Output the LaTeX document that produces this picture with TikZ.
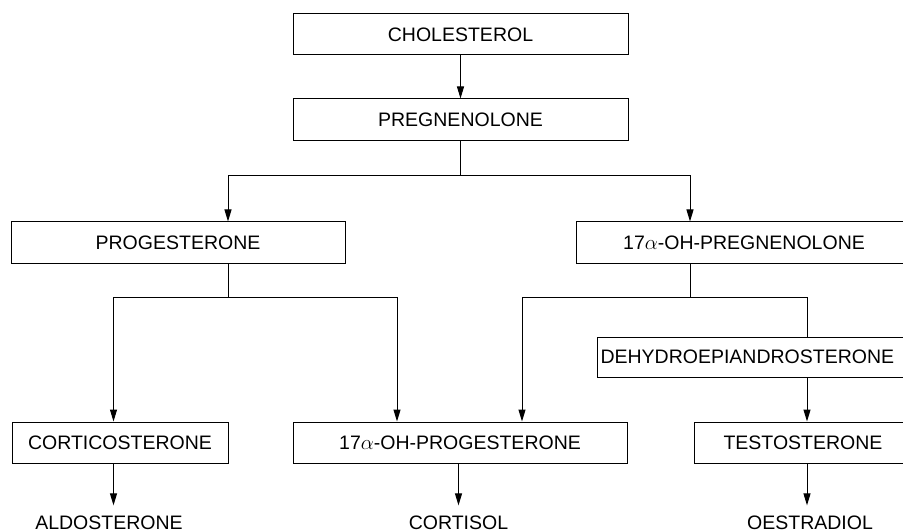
\documentclass[tikz,border=0pt]{standalone}
\usepackage{fontspec}
\setmainfont{Liberation Sans}
\usetikzlibrary{arrows.meta}
\begin{document}
\begin{tikzpicture}[x=1pt,y=-1pt,
  lbl/.style={font=\fontsize{19.5}{23}\selectfont},
  box/.style={lbl, draw, line width=1pt, minimum height=41pt, inner sep=0pt},
  outtext/.style={lbl, inner sep=0pt, outer ysep=10pt},
  conn/.style={line width=1pt},
  arr/.style={conn, -{Triangle[length=12pt,width=7pt]}}]
\useasboundingbox (0,0) rectangle (903,532);
% boxes
\node[box, minimum width=335pt] (chol) at (460.5,34.5) {CHOLESTEROL};
\node[box, minimum width=335pt, minimum height=42pt] (preg) at (460.5,120) {PREGNENOLONE};
\node[box, minimum width=334pt] (prog) at (178,242.5) {PROGESTERONE};
\node[box, minimum width=336pt] (ohpreg) at (744,242.5) {17$\alpha$-OH-PREGNENOLONE};
\node[box, anchor=west, text width=314pt, inner xsep=3pt, align=left, minimum height=40pt] (dhea) at (597,357) {DEHYDROEPIANDROSTERONE};
\node[box, minimum width=216pt] (cort) at (120,442.5) {CORTICOSTERONE};
\node[box, minimum width=334pt] (ohprog) at (460,442.5) {17$\alpha$-OH-PROGESTERONE};
\node[box, minimum width=218pt] (testo) at (803,442.5) {TESTOSTERONE};
% end products
\node[outtext, anchor=base] (aldo) at (109,529) {ALDOSTERONE};
\node[outtext, anchor=base] (cortisol) at (458.5,529) {CORTISOL};
\node[outtext, anchor=base] (oest) at (810,529) {OESTRADIOL};
% junctions
\coordinate (j1) at (460.5,176);
\coordinate (j1l) at (228,176);
\coordinate (j1r) at (690,176);
\coordinate (j2) at (228,297.5);
\coordinate (j2l) at (113.5,297.5);
\coordinate (j2r) at (397,297.5);
\coordinate (j3) at (690,297);
\coordinate (j3l) at (522,297);
\coordinate (j3r) at (807,297);
% connectors
\draw[arr] (chol) -- (preg);
\draw[conn] (preg.south) -- (j1);
\draw[arr] (j1) -- (j1l) -- (j1l |- prog.north);
\draw[arr] (j1) -- (j1r) -- (j1r |- ohpreg.north);
\draw[conn] (j2 |- prog.south) -- (j2);
\draw[arr] (j2) -- (j2l) -- (j2l |- cort.north);
\draw[arr] (j2) -- (j2r) -- (j2r |- ohprog.north);
\draw[conn] (j3 |- ohpreg.south) -- (j3);
\draw[arr] (j3) -- (j3l) -- (j3l |- ohprog.north);
\draw[conn] (j3) -- (j3r) -- (j3r |- dhea.north);
\draw[arr] (j3r |- dhea.south) -- (j3r |- testo.north);
\draw[arr] (j2l |- cort.south) -- (j2l |- aldo.north);
\draw[arr] (cortisol |- ohprog.south) -- (cortisol.north);
\draw[arr] (j3r |- testo.south) -- (j3r |- oest.north);
\end{tikzpicture}
\end{document}
